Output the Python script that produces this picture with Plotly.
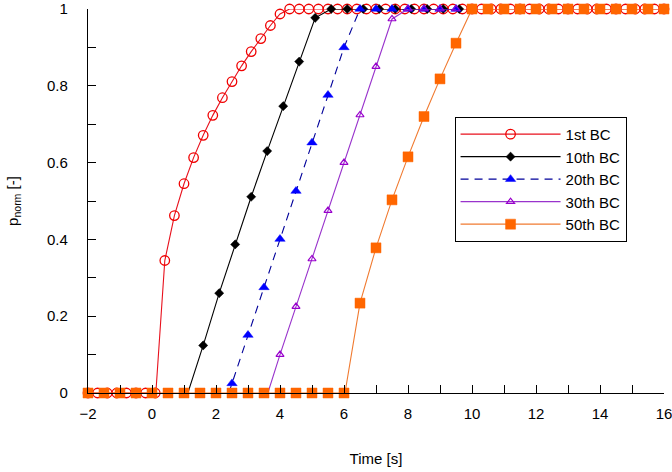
import plotly.graph_objects as go

# ---------------- data ----------------
t_1st = [-2.0, -1.7, -1.4, -1.1, -0.8, -0.5, -0.2, 0.1, 0.4, 0.7, 1.0, 1.3, 1.6, 1.9, 2.2, 2.5,
         2.8, 3.1, 3.4, 3.7, 4.0, 4.3, 4.6, 4.9, 5.2, 5.5, 5.8, 6.1, 6.4, 6.7, 7.0, 7.3, 7.6,
         7.9, 8.2, 8.5, 8.8, 9.1, 9.4, 9.7, 10.0, 10.3, 10.6, 10.9, 11.2, 11.5, 11.8, 12.1,
         12.4, 12.7, 13.0, 13.3, 13.6, 13.9, 14.2, 14.5, 14.8, 15.1, 15.4, 15.7, 16.0]
p_1st = [0, 0, 0, 0, 0, 0, 0, 0, 0.345, 0.462, 0.545, 0.613, 0.671, 0.723, 0.769, 0.811,
         0.852, 0.889, 0.923, 0.957, 0.987, 1, 1, 1, 1, 1, 1, 1, 1, 1, 1, 1, 1,
         1, 1, 1, 1, 1, 1, 1, 1, 1, 1, 1, 1, 1, 1, 1,
         1, 1, 1, 1, 1, 1, 1, 1, 1, 1, 1, 1, 1]
onset_1st = 0.12

t_10th = [1.6, 2.1, 2.6, 3.1, 3.6, 4.1, 4.6, 5.1, 5.6, 6.1, 6.6, 7.1, 7.6, 8.1, 8.6, 9.1, 9.6]
p_10th = [0.124, 0.26, 0.387, 0.511, 0.63, 0.747, 0.863, 0.977, 1, 1, 1, 1, 1, 1, 1, 1, 1]
onset_10th = 1.12

t_20th = [2.5, 3.0, 3.5, 4.0, 4.5, 5.0, 5.5, 6.0, 6.5, 7.0, 7.5, 8.0, 8.5, 9.0, 9.5]
p_20th = [0.025, 0.151, 0.275, 0.401, 0.526, 0.652, 0.776, 0.9, 1, 1, 1, 1, 1, 1, 1]
onset_20th = 2.4

t_30th = [4.0, 4.5, 5.0, 5.5, 6.0, 6.5, 7.0, 7.5, 8.0, 8.5, 9.0, 9.5]
p_30th = [0.1, 0.225, 0.349, 0.475, 0.6, 0.724, 0.85, 0.974, 1, 1, 1, 1]
onset_30th = 3.62

t_50th = [-2.0, -1.5, -1.0, -0.5, 0.0, 0.5, 1.0, 1.5, 2.0, 2.5, 3.0, 3.5, 4.0, 4.5, 5.0, 5.5,
          6.0, 6.5, 7.0, 7.5, 8.0, 8.5, 9.0, 9.5, 10.0, 10.5, 11.0, 11.5, 12.0, 12.5, 13.0,
          13.5, 14.0, 14.5, 15.0, 15.5, 16.0]
p_50th = [0, 0, 0, 0, 0, 0, 0, 0, 0, 0, 0, 0, 0, 0, 0, 0,
          0, 0.234, 0.378, 0.503, 0.615, 0.72, 0.818, 0.911, 1, 1, 1, 1, 1, 1, 1,
          1, 1, 1, 1, 1, 1]
onset_50th = 6.03

series_names = ["1st BC", "10th BC", "20th BC", "30th BC", "50th BC"]

# ---------------- styles ----------------
FONT = "Arial, 'Liberation Sans', sans-serif"

styles = {
    "1st BC": dict(line=dict(color="#E8101C", width=1.1),
                   marker=dict(symbol="circle-open", size=9.5, color="#F00000",
                               line=dict(width=1.3, color="#F00000"))),
    "10th BC": dict(line=dict(color="#000000", width=1.1),
                    marker=dict(symbol="diamond", size=7, color="#000000",
                                line=dict(width=0.5, color="#000000"))),
    "20th BC": dict(line=dict(color="#00009A", width=1.1, dash="8px,6px"),
                    marker=dict(symbol="triangle-up", size=9, color="#0000FF",
                                line=dict(width=0.5, color="#0000FF"))),
    "30th BC": dict(line=dict(color="#9933CC", width=1.1),
                    marker=dict(symbol="triangle-up-open", size=7, color="#9900CC",
                                line=dict(width=1.2, color="#9900CC"))),
    "50th BC": dict(line=dict(color="#F07A30", width=1.1),
                    marker=dict(symbol="square", size=10, color="#FF6600",
                                line=dict(width=0.5, color="#FF6600"))),
}

data = {
    "1st BC": (t_1st, p_1st, onset_1st),
    "10th BC": (t_10th, p_10th, onset_10th),
    "20th BC": (t_20th, p_20th, onset_20th),
    "30th BC": (t_30th, p_30th, onset_30th),
    "50th BC": (t_50th, p_50th, onset_50th),
}

fig = go.Figure()

for name in series_names:
    t, p, onset = data[name]
    st = styles[name]
    # line: sample points plus the point where the curve leaves zero
    pts = sorted(zip(list(t) + [onset], list(p) + [0]))
    lx = [a for a, _ in pts]
    ly = [b for _, b in pts]
    fig.add_trace(go.Scatter(x=lx, y=ly, mode="lines", line=st["line"],
                             showlegend=False, hoverinfo="skip", cliponaxis=False, legendgroup=name))
    fig.add_trace(go.Scatter(x=t, y=p, mode="markers", marker=st["marker"],
                             showlegend=False, cliponaxis=False, legendgroup=name, name=name))

# legend entries
for name in series_names:
    st = styles[name]
    fig.add_trace(go.Scatter(x=[None], y=[None], mode="lines+markers", name=name,
                             line=st["line"], marker=st["marker"], legendgroup=name))

axis_common = dict(
    showline=True, linecolor="black", linewidth=1.3, mirror=False,
    ticks="inside", ticklen=8, tickwidth=1, tickcolor="black",
    showgrid=False, zeroline=False, ticklabeloverflow="allow",
    tickfont=dict(family=FONT, size=15, color="black"),
)

fig.update_layout(
    width=672, height=472,
    margin=dict(l=88, r=8, t=9, b=79, autoexpand=False),
    paper_bgcolor="white", plot_bgcolor="white",
    font=dict(family=FONT, color="black"),
    xaxis=dict(axis_common, range=[-2, 16], tick0=-2, dtick=2,
               minor=dict(ticks="inside", dtick=1, tick0=-2, ticklen=8, tickcolor="black"),
               ticklabelstandoff=7,
               title=dict(text="Time [s]", font=dict(family=FONT, size=15), standoff=32)),
    yaxis=dict(axis_common, range=[0, 1], tick0=0, dtick=0.2, tickformat="~g",
               minor=dict(ticks="inside", dtick=0.1, tick0=0, ticklen=8, tickcolor="black"),
               ticklabelstandoff=16,
               title=dict(text="p<sub>norm</sub> [-]", font=dict(family=FONT, size=15), standoff=24)),
    legend=dict(x=0.935, y=0.719, xanchor="right", yanchor="top",
                bgcolor="white", bordercolor="black", borderwidth=1,
                font=dict(family=FONT, size=15, color="black"),
                tracegroupgap=0, itemwidth=100),
    showlegend=True,
)

fig.write_html("out.html", config={"displayModeBar": False},
               post_script="document.body.style.margin='0px';document.body.style.overflow='hidden';")
